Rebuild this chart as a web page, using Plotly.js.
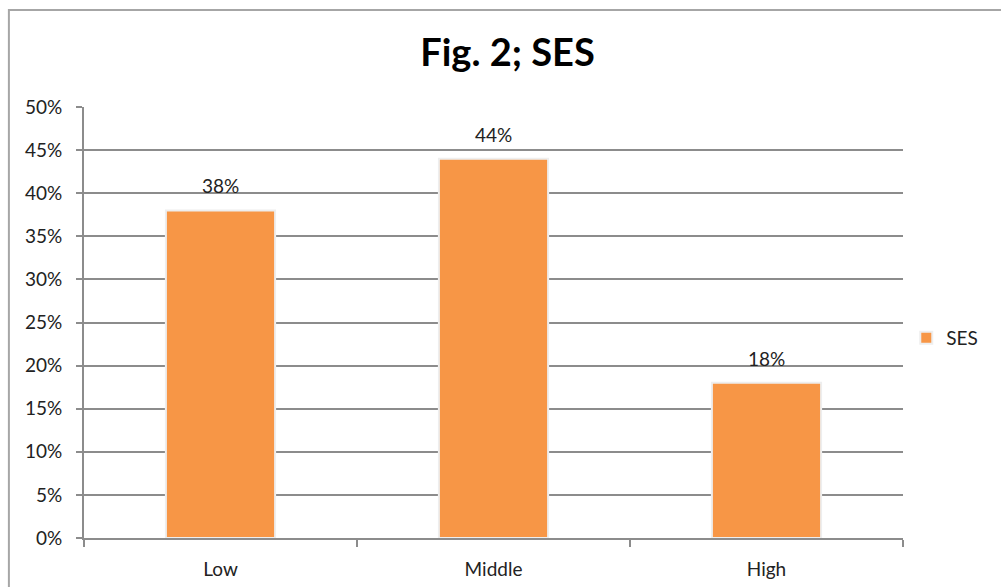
<!DOCTYPE html>
<html>
<head>
<meta charset="utf-8">
<script src="https://cdn.plot.ly/plotly-3.0.1.min.js"></script>
<style>html,body{margin:0;padding:0;background:#fff;}#chart{width:1001px;height:587px;}</style>
</head>
<body>
<div id="chart"></div>
<script>
const categories = ["Low", "Middle", "High"];
const sesValues = [0.38, 0.44, 0.18];
const seriesName = "SES";
const yTickVals = [0, 0.05, 0.10, 0.15, 0.20, 0.25, 0.30, 0.35, 0.40, 0.45, 0.50];

const FONT = "Lato, 'Open Sans', 'Liberation Sans', sans-serif";
const GRID = "#8c8c8c";
const TXT = "#222";

const trace = {
  type: "bar",
  x: categories,
  y: sesValues,
  name: seriesName,
  marker: { color: "#f79646", line: { color: "#eeeeee", width: 2 } },
  hoverinfo: "x+y"
};

const labelAnnotations = categories.map((c, i) => ({
  x: c, y: sesValues[i], xref: "x", yref: "y",
  text: Math.round(sesValues[i] * 100) + "%",
  showarrow: false, yanchor: "bottom", yshift: 11,
  font: { family: FONT, size: 19, color: TXT }
}));

const layout = {
  width: 1001,
  height: 587,
  margin: { l: 84, r: 98, t: 107, b: 49, autoexpand: false },
  paper_bgcolor: "#fff",
  plot_bgcolor: "#fff",
  bargap: 0.6,
  font: { family: FONT, size: 19, color: TXT },
  title: {
    text: "<b>Fig. 2; SES</b>",
    font: { family: FONT, size: 38, color: "#000" },
    xref: "container", x: 0.507, xanchor: "center",
    yref: "container", y: 0.911, yanchor: "middle"
  },
  xaxis: {
    type: "category",
    showgrid: false,
    showline: true,
    linecolor: GRID,
    linewidth: 2,
    ticks: "outside",
    tickson: "boundaries",
    ticklen: 7,
    tickwidth: 2,
    tickcolor: GRID,
    tickfont: { family: FONT, size: 19, color: TXT },
    ticklabelstandoff: 13,
    automargin: false
  },
  yaxis: {
    range: [0, 0.5],
    tickvals: yTickVals,
    tickformat: ".0%",
    showgrid: true,
    gridcolor: GRID,
    gridwidth: 2,
    showline: true,
    linecolor: GRID,
    linewidth: 2,
    ticks: "outside",
    ticklen: 6,
    tickwidth: 2,
    tickcolor: GRID,
    zeroline: false,
    tickfont: { family: FONT, size: 19, color: TXT },
    ticklabelstandoff: 10,
    automargin: false
  },
  showlegend: true,
  legend: {
    x: 1.004, xanchor: "left",
    y: 0.464, yanchor: "middle",
    font: { family: FONT, size: 19, color: TXT },
    itemwidth: 30
  },
  annotations: labelAnnotations,
  shapes: [{
    type: "path",
    xref: "paper", yref: "paper",
    path: "M -0.0917,-0.3 L -0.0917,1.225 L 1.3,1.225",
    line: { color: "#a6a6a6", width: 2 }
  }]
};

Plotly.newPlot("chart", [trace], layout, { displayModeBar: false, staticPlot: true });
</script>
</body>
</html>
